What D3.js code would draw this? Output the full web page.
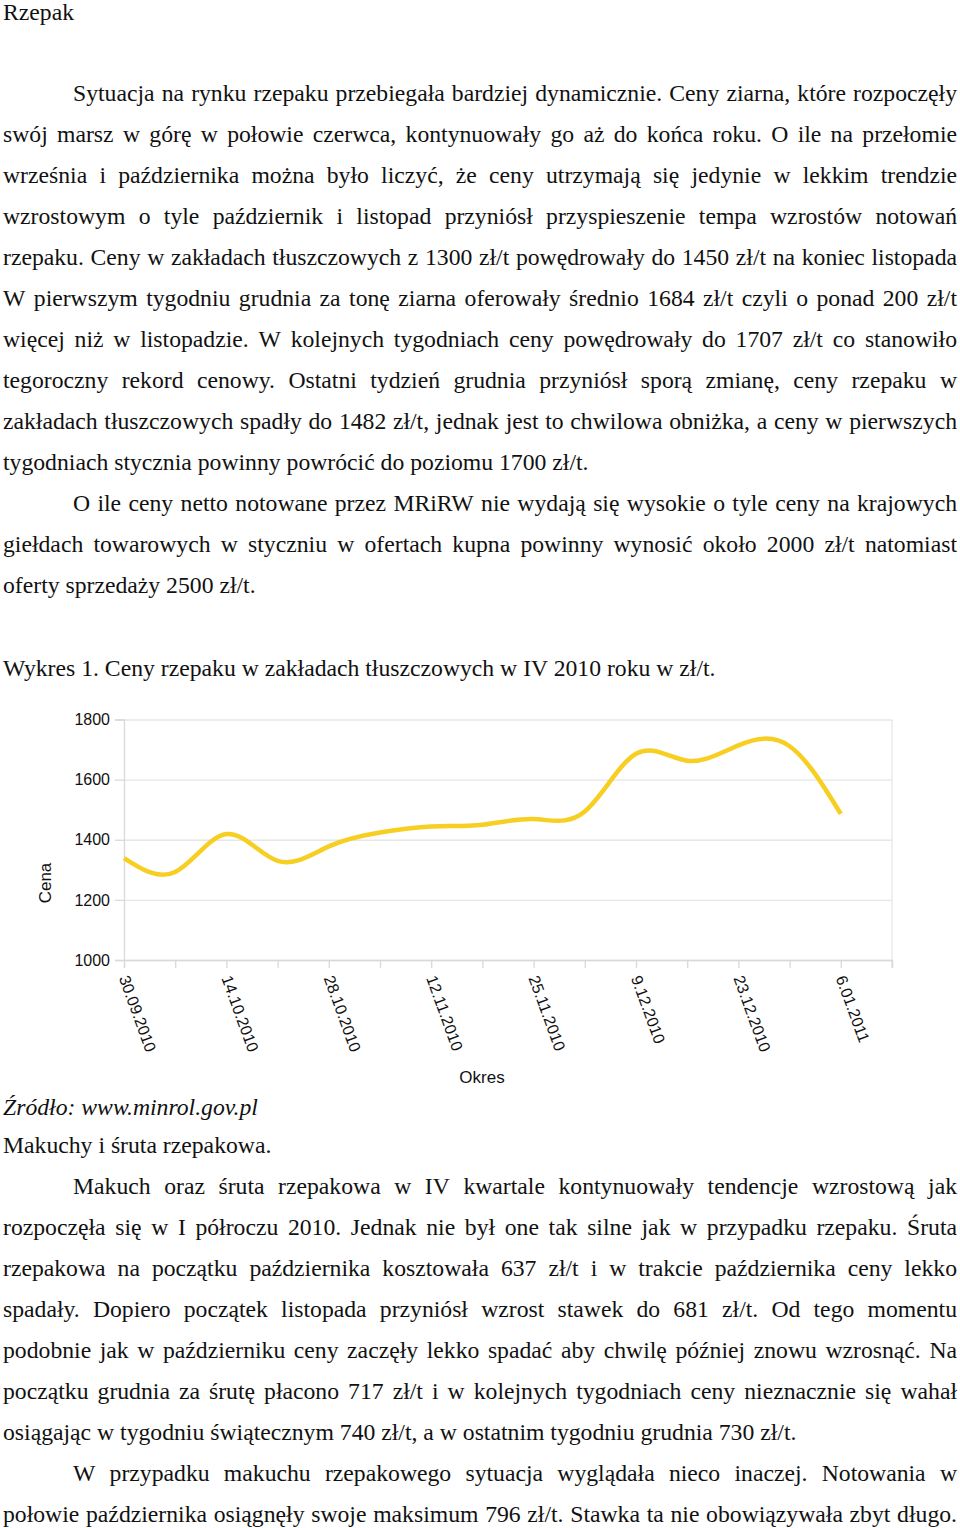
<!DOCTYPE html>
<html><head><meta charset="utf-8">
<script src="https://cdn.jsdelivr.net/npm/d3@7"></script>
<style>
html,body{margin:0;padding:0;background:#fff;}
svg{display:block;}
</style></head>
<body>
<svg id="page" width="960" height="1528"></svg>
<script>
// ---------- DATA ----------
const weeks = ["30.09.2010","7.10.2010","14.10.2010","21.10.2010","28.10.2010","4.11.2010","12.11.2010","18.11.2010","25.11.2010","2.12.2010","9.12.2010","16.12.2010","23.12.2010","30.12.2010","6.01.2011"];
const prices = [1339,1293,1419,1330,1378,1424,1444,1450,1469,1494,1686,1663,1714,1711,1486];
const tickLabels = ["30.09.2010","14.10.2010","28.10.2010","12.11.2010","25.11.2010","9.12.2010","23.12.2010","6.01.2011"];
const yTicks = [1000,1200,1400,1600,1800];
const yTitle = "Cena";
const xTitle = "Okres";

// ---------- TEXT ----------
const para1 = [
 "Sytuacja na rynku rzepaku przebiegała bardziej dynamicznie. Ceny ziarna, które rozpoczęły",
 "swój marsz w górę w połowie czerwca, kontynuowały go aż do końca roku. O ile na przełomie",
 "września i października można było liczyć, że ceny utrzymają się jedynie w lekkim trendzie",
 "wzrostowym o tyle październik i listopad przyniósł przyspieszenie tempa wzrostów notowań",
 "rzepaku. Ceny w zakładach tłuszczowych z 1300 zł/t powędrowały do 1450 zł/t na koniec listopada",
 "W pierwszym tygodniu grudnia za tonę ziarna oferowały średnio 1684 zł/t czyli o ponad 200 zł/t",
 "więcej niż w listopadzie. W kolejnych tygodniach ceny powędrowały do 1707 zł/t co stanowiło",
 "tegoroczny rekord cenowy. Ostatni tydzień grudnia przyniósł sporą zmianę, ceny rzepaku w",
 "zakładach tłuszczowych spadły do 1482 zł/t, jednak jest to chwilowa obniżka, a ceny w pierwszych",
 "tygodniach stycznia powinny powrócić do poziomu 1700 zł/t."
];
const para2 = [
 "O ile ceny netto notowane przez MRiRW nie wydają się wysokie o tyle ceny na krajowych",
 "giełdach towarowych w styczniu w ofertach kupna powinny wynosić około 2000 zł/t natomiast",
 "oferty sprzedaży 2500 zł/t."
];
const para3 = [
 "Makuch oraz śruta rzepakowa w IV kwartale kontynuowały tendencje wzrostową jak",
 "rozpoczęła się w I półroczu 2010. Jednak nie był one tak silne jak w przypadku rzepaku. Śruta",
 "rzepakowa na początku października kosztowała 637 zł/t  i  w trakcie października ceny lekko",
 "spadały. Dopiero początek listopada przyniósł wzrost stawek do 681 zł/t. Od tego momentu",
 "podobnie jak w październiku ceny zaczęły lekko spadać aby chwilę później znowu wzrosnąć. Na",
 "początku grudnia za śrutę płacono 717 zł/t i w kolejnych tygodniach ceny nieznacznie się wahał",
 "osiągając w tygodniu świątecznym 740 zł/t, a w ostatnim tygodniu grudnia 730 zł/t."
];
const para4 = [
 "W przypadku makuchu rzepakowego sytuacja wyglądała nieco inaczej. Notowania w",
 "połowie października osiągnęły swoje maksimum 796 zł/t. Stawka ta nie obowiązywała zbyt długo."
];

const svg = d3.select("#page");
const serif = "'Liberation Serif','Times New Roman',serif";
const sans = "'Liberation Sans',Arial,sans-serif";
const FS = 23.7, LH = 41, LEFT = 3, RIGHT = 957, INDENT = 73;

function plainLine(txt, x, y, opts = {}) {
  return svg.append("text").attr("x", x).attr("y", y)
    .attr("font-family", serif).attr("font-size", opts.size || FS)
    .attr("font-style", opts.italic ? "italic" : null)
    .attr("fill", "#111").text(txt);
}
function justifiedLine(txt, x0, x1, y) {
  const words = txt.split(/\s+/).filter(w => w.length);
  const g = svg.append("text").attr("y", y)
    .attr("font-family", serif).attr("font-size", FS).attr("fill", "#111");
  const spans = words.map(w => g.append("tspan").attr("x", 0).text(w));
  const widths = spans.map(s => s.node().getComputedTextLength());
  const total = d3.sum(widths);
  const gap = (x1 - x0 - total) / (words.length - 1);
  let x = x0;
  spans.forEach((s, i) => { s.attr("x", x); x += widths[i] + gap; });
}
function paragraph(lines, baseline, justifyLast) {
  lines.forEach((l, i) => {
    const x0 = i === 0 ? INDENT : LEFT;
    const y = baseline + i * LH;
    if (i === lines.length - 1 && !justifyLast) plainLine(l, x0, y);
    else justifiedLine(l, x0, RIGHT, y);
  });
}

plainLine("Rzepak", LEFT, 19.5);
paragraph(para1, 100.5);
paragraph(para2, 100.5 + 10 * LH);
plainLine("Wykres 1. Ceny rzepaku w zakładach tłuszczowych w IV 2010 roku w zł/t.", LEFT, 675.5);
plainLine("Źródło: www.minrol.gov.pl", LEFT, 1114.5, {italic: true});
plainLine("Makuchy i śruta rzepakowa.", LEFT, 1152.5);
paragraph(para3, 1193.5);
paragraph(para4, 1193.5 + 7 * LH, true);

// ---------- CHART ----------
const pl = 124, pr = 892, pt = 719.5, pb = 960;
const x = d3.scaleLinear().domain([0, 15]).range([pl, pr]);
const y = d3.scaleLinear().domain([1000, 1800]).range([pb, pt]);
const chart = svg.append("g");

// horizontal gridlines
chart.append("g").attr("transform", `translate(${pl},0)`)
  .call(d3.axisLeft(y).tickValues(yTicks).tickSize(-(pr - pl)).tickFormat(""))
  .call(g => g.select(".domain").remove())
  .call(g => g.selectAll("line").attr("stroke", "#e6e6e6").attr("stroke-width", 1.3));
// right border
chart.append("line").attr("x1", pr).attr("x2", pr).attr("y1", pt).attr("y2", pb + 8)
  .attr("stroke", "#e6e6e6").attr("stroke-width", 1.3);

// y axis
chart.append("g").attr("transform", `translate(${pl},0)`)
  .call(d3.axisLeft(y).tickValues(yTicks).tickSize(9).tickPadding(5).tickFormat(d3.format("d")))
  .call(g => g.select(".domain").attr("stroke", "#d9d9d9").attr("stroke-width", 1.3))
  .call(g => g.selectAll("line").attr("stroke", "#d9d9d9").attr("stroke-width", 1.3))
  .call(g => g.selectAll("text").attr("font-family", sans).attr("font-size", 16).attr("fill", "#111"));

// x axis
chart.append("g").attr("transform", `translate(0,${pb})`)
  .call(d3.axisBottom(x).tickValues(d3.range(16)).tickSize(8).tickFormat(""))
  .call(g => g.select(".domain").attr("stroke", "#d9d9d9").attr("stroke-width", 1.3))
  .call(g => g.selectAll("line").attr("stroke", "#d9d9d9").attr("stroke-width", 1.3));
chart.append("g").selectAll("text").data(tickLabels).join("text")
  .attr("transform", (d, i) => `translate(${x(i * 2)},976) rotate(70)`)
  .attr("dy", "0.35em")
  .attr("font-family", sans).attr("font-size", 16).attr("fill", "#111")
  .text(d => d);

// titles
chart.append("text").attr("transform", "translate(51,883) rotate(-90)")
  .attr("text-anchor", "middle").attr("font-family", sans).attr("font-size", 17).attr("fill", "#111")
  .text(yTitle);
chart.append("text").attr("x", 482).attr("y", 1083)
  .attr("text-anchor", "middle").attr("font-family", sans).attr("font-size", 17).attr("fill", "#111")
  .text(xTitle);

// line
const line = d3.line().x((d, i) => x(i)).y(d => y(d)).curve(d3.curveNatural);
chart.append("path").datum(prices).attr("d", line)
  .attr("fill", "none").attr("stroke", "#f6cf22").attr("stroke-width", 4.5)
  .attr("stroke-linecap", "butt").attr("stroke-linejoin", "round");
</script>
</body></html>
